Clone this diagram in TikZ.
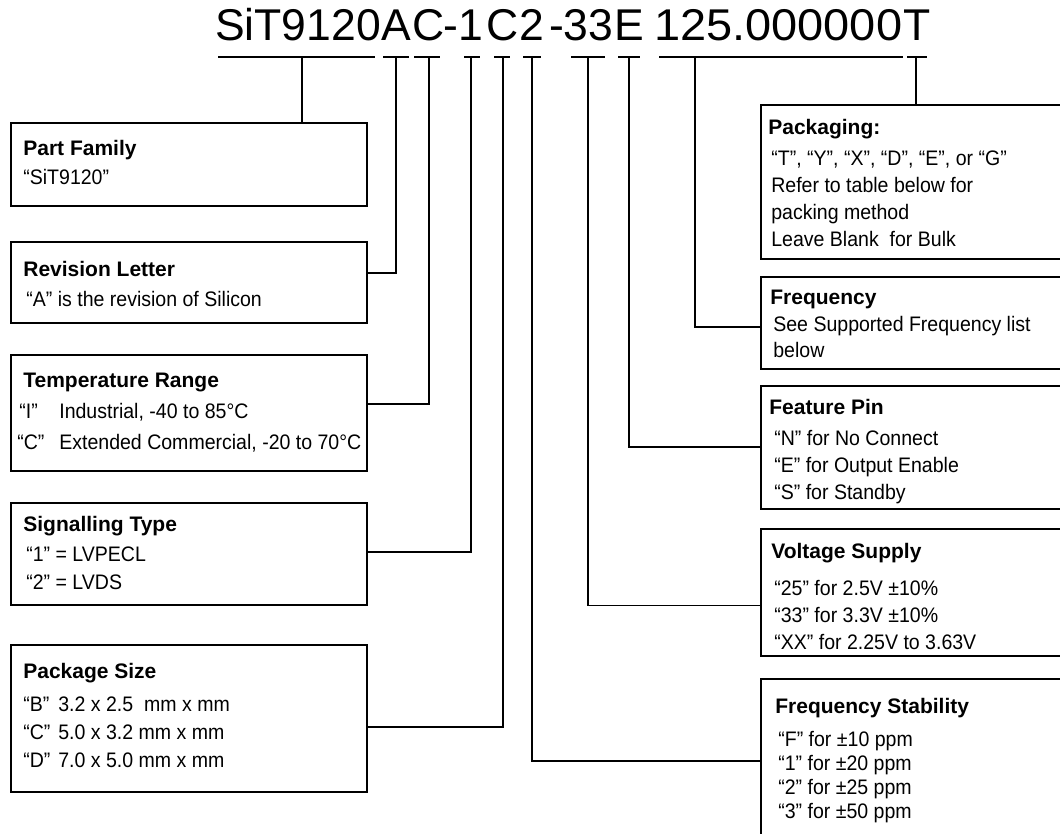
\documentclass[tikz,border=0pt]{standalone}
\usepackage{graphicx}
\usepackage{fontspec}
\setmainfont{Liberation Sans}
\newfontfamily\bodyfont{Liberation Sans}[FakeStretch=0.93]
\usetikzlibrary{positioning}

\tikzset{
  infobox/.style={draw,line width=1.7pt,inner sep=0pt},
  infotext/.style={inner sep=0pt,align=left,font=\bodyfont\fontsize{21}{#1}\selectfont},
  infotext/.default=27.5,
  code/.style={inner sep=0pt,anchor=base,font=\fontsize{44.5}{50}\selectfont},
  lead/.style={line width=1.5pt},
}
\newcommand{\boxtitle}[1]{{\rmfamily\fontsize{21}{27}\selectfont\bfseries #1}}
\newcommand{\ind}{\hspace*{3pt}}

\begin{document}
\begin{tikzpicture}[x=1pt,y=-1pt]
\useasboundingbox (0,0) rectangle (1060,833);
\clip (0,0) rectangle (1060,833);

% Write the part number, one node for each field.
\node[code,anchor=base east] (cfam) at (381,40) {SiT9120};
\node[code] (crev) at (396,40) {A};
\node[code] (ctemp) at (429,40) {C};
\node[code] (cdashA) at (451,40) {-};
\node[code] (csig) at (471,40) {1};
\node[code] (csize) at (503,40) {C};
\node[code] (cstab) at (532,40) {2};
\node[code] (cdashB) at (557,40) {-};
\node[code] (cvolt) at (588,40) {33};
\node[code] (cfeat) at (629,40) {E};
\node[code,anchor=base west] (cfreq) at (654,40) {\scalebox{1.055}[1]{125.000000}};
\node[code] (cpack) at (917,40) {T};

% Underline the fields.
\draw[lead] (218,57) -- (375,57);
\draw[lead] (383,57) -- (409,57);
\draw[lead] (414,57) -- (440,57);
\draw[lead] (464,57) -- (480,57);
\draw[lead] (494,57) -- (510,57);
\draw[lead] (523,57) -- (541,57);
\draw[lead] (571,57) -- (605,57);
\draw[lead] (618,57) -- (640,57);
\draw[lead] (659,57) -- (903,57);
\draw[lead] (907,57) -- (927,57);

% Define the points where the leads leave the underlines.
\coordinate (tfam) at (302,57);
\coordinate (trev) at (396,57);
\coordinate (ttemp) at (429,57);
\coordinate (tsig) at (471,57);
\coordinate (tsize) at (503,57);
\coordinate (tstab) at (532,57);
\coordinate (tvolt) at (588,57);
\coordinate (tfeat) at (629,57);
\coordinate (tfreq) at (695,57);
\coordinate (tpack) at (916,57);

% Left column of boxes.
\node[infobox,minimum width=356pt,minimum height=83pt] (fam) at (189,164.5) {};
\node[infotext,below right=17.7pt and 13pt of fam.north west] (famtxt)
  {\boxtitle{Part Family}\\[2pt]
   “SiT9120”};

\node[infobox,minimum width=356pt,minimum height=81pt] (rev) at (189,282.5) {};
\node[infotext,below right=19.7pt and 13pt of rev.north west] (revtxt)
  {\boxtitle{Revision Letter}\\[2.5pt]
   \ind “A” is the revision of Silicon};

\node[infobox,minimum width=356pt,minimum height=116pt] (temp) at (189,413) {};
\node[infotext=31,below right=18.7pt and 13pt of temp.north west] (temptxt)
  {\boxtitle{Temperature Range}\\
   \hspace*{-4pt}\makebox[40pt][l]{“I”}Industrial, -40 to 85°C\\
   \hspace*{-6pt}\makebox[42pt][l]{“C”}Extended Commercial, -20 to 70°C};

\node[infobox,minimum width=356pt,minimum height=102pt] (sig) at (189,554) {};
\node[infotext=28,below right=13.7pt and 13pt of sig.north west] (sigtxt)
  {\boxtitle{Signalling Type}\\[2pt]
   \ind “1” = LVPECL\\
   \ind “2” = LVDS};

\node[infobox,minimum width=356pt,minimum height=147pt] (size) at (189,718.5) {};
\node[infotext=28,below right=18.7pt and 13pt of size.north west] (sizetxt)
  {\boxtitle{Package Size}\\[5pt]
   \makebox[35pt][l]{“B”}3.2 x 2.5 \ mm x mm\\
   \makebox[35pt][l]{“C”}5.0 x 3.2 mm x mm\\
   \makebox[35pt][l]{“D”}7.0 x 5.0 mm x mm};

% Right column of boxes, cut off by the edge of the picture.
\node[infobox,minimum width=339pt,minimum height=154pt] (pack) at (930.5,182) {};
\node[infotext=27,below right=14.7pt and 8pt of pack.north west] (packtxt)
  {\boxtitle{Packaging:}\\[4pt]
   \ind “T”, “Y”, “X”, “D”, “E”, or “G”\\
   \ind Refer to table below for\\
   \ind packing method\\
   \ind Leave Blank\ \ for Bulk};

\node[infobox,minimum width=339pt,minimum height=92pt] (freq) at (930.5,323) {};
\node[infotext=26,below right=13.7pt and 10pt of freq.north west] (freqtxt)
  {\boxtitle{Frequency}\\[1pt]
   \ind See Supported Frequency list\\
   \ind below};

\node[infobox,minimum width=339pt,minimum height=123pt] (feat) at (930.5,447.5) {};
\node[infotext=27,below right=13.7pt and 9pt of feat.north west] (feattxt)
  {\boxtitle{Feature Pin}\\[4pt]
   \hspace*{5pt}“N” for No Connect\\
   \hspace*{5pt}“E” for Output Enable\\
   \hspace*{5pt}“S” for Standby};

\node[infobox,minimum width=339pt,minimum height=127pt] (volt) at (930.5,592.5) {};
\node[infotext=27,below right=14.7pt and 11pt of volt.north west] (volttxt)
  {\boxtitle{Voltage Supply}\\[10pt]
   \ind “25” for 2.5V ±10\%\\
   \ind “33” for 3.3V ±10\%\\
   \ind “XX” for 2.25V to 3.63V};

\node[infobox,minimum width=339pt,minimum height=201pt] (stab) at (930.5,779.5) {};
\node[infotext=24,below right=19.7pt and 15pt of stab.north west] (stabtxt)
  {\boxtitle{Frequency Stability}\\[9pt]
   \ind “F” for ±10 ppm\\
   \ind “1” for ±20 ppm\\
   \ind “2” for ±25 ppm\\
   \ind “3” for ±50 ppm};

% Draw the leads from the fields to their boxes.
\draw[lead] (tfam) -- (tfam |- fam.north);
\draw[lead] (trev) |- (rev.east |- 0,273);
\draw[lead] (ttemp) |- (temp.east |- 0,404);
\draw[lead] (tsig) |- (sig.east |- 0,552);
\draw[lead] (tsize) |- (size.east |- 0,727);
\draw[lead] (tstab) |- (stab.west |- 0,761);
\draw[lead] (tvolt) |- (volt.west |- 0,605.5);
\draw[lead] (tfeat) |- (feat.west |- 0,447);
\draw[lead] (tfreq) |- (freq.west |- 0,327);
\draw[lead] (tpack) -- (tpack |- pack.north);

\end{tikzpicture}
\end{document}
